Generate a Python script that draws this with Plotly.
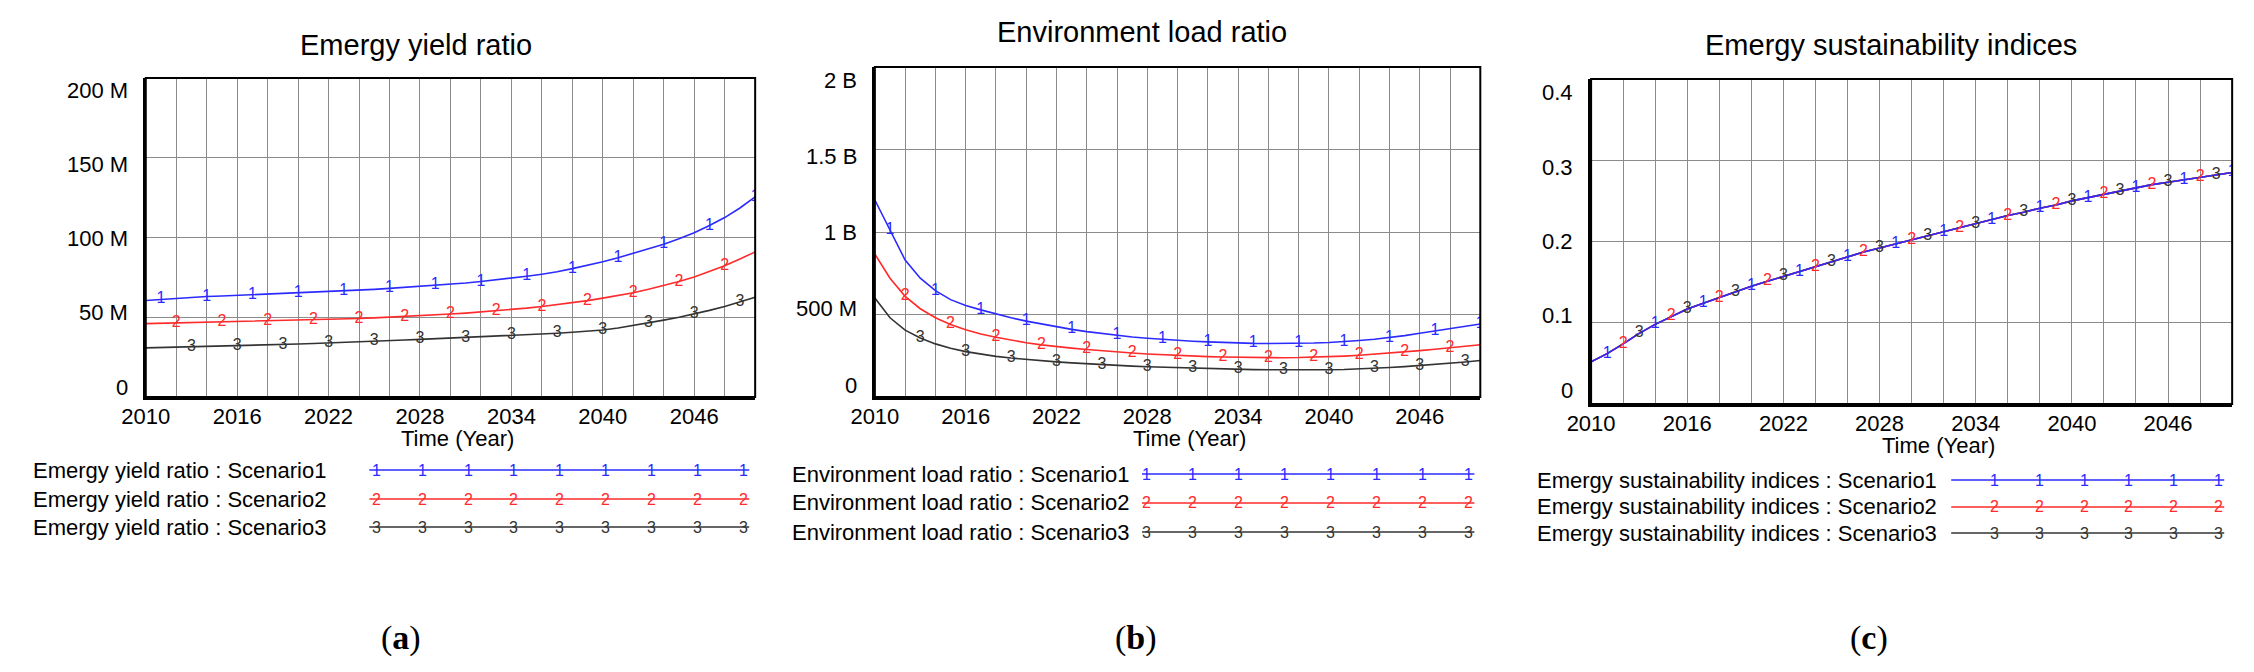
import plotly.graph_objects as go

# ---------------- data ----------------
years = list(range(2010, 2051))

# Emergy yield ratio (millions)
eyr_s1 = [60.5, 61.2, 61.8, 62.4, 63.0, 63.3, 63.7, 64.0, 64.4, 64.8, 65.2, 65.6, 66.0, 66.5, 67.0,
          67.5, 68.1, 68.7, 69.3, 70.0, 70.7, 71.5, 72.4, 73.4, 74.5, 75.7, 77.0, 78.5, 80.5, 82.6,
          84.8, 87.3, 90.0, 92.8, 95.8, 99.2, 103.0, 107.5, 112.5, 118.5, 125.5]
eyr_s2 = [46.0, 46.2, 46.4, 46.6, 46.8, 47.0, 47.2, 47.4, 47.6, 47.8, 48.0, 48.3, 48.6, 48.9, 49.2,
          49.6, 50.0, 50.4, 50.9, 51.4, 52.0, 52.6, 53.3, 54.0, 54.8, 55.7, 56.7, 57.8, 59.0, 60.4,
          62.0, 63.6, 65.4, 67.5, 69.8, 72.4, 75.3, 78.6, 82.3, 86.5, 91.0]
eyr_s3 = [30.8, 31.0, 31.2, 31.4, 31.6, 31.8, 32.0, 32.3, 32.6, 32.9, 33.2, 33.5, 33.8, 34.1, 34.5,
          34.9, 35.3, 35.7, 36.1, 36.5, 36.9, 37.3, 37.7, 38.2, 38.7, 39.2, 39.6, 40.0, 40.6, 41.3,
          42.0, 43.3, 44.8, 46.5, 48.2, 50.0, 52.0, 54.3, 56.8, 59.5, 62.5]

# Environment load ratio (millions)
elr_s1 = [1194, 1010, 830, 720, 645, 590, 555, 528, 503, 480, 460, 442, 425, 410, 396,
          384, 374, 364, 356, 349, 343, 338, 334, 330, 327, 325, 324, 324, 325, 327,
          330, 335, 342, 350, 360, 372, 386, 400, 414, 428, 442]
elr_s2 = [866, 720, 610, 535, 480, 440, 408, 382, 362, 344, 329, 316, 305, 296, 288,
          280, 273, 267, 261, 256, 252, 248, 245, 242, 240, 239, 238, 238, 239, 241,
          244, 248, 253, 259, 266, 273, 281, 289, 298, 307, 317]
elr_s3 = [600, 480, 405, 358, 322, 295, 275, 259, 246, 236, 227, 220, 213, 207, 201,
          196, 191, 187, 183, 180, 177, 174, 171, 169, 167, 166, 165, 164, 164, 164,
          165, 167, 170, 174, 179, 184, 190, 197, 204, 212, 221]

# Emergy sustainability indices
esi_s1 = [0.052, 0.062, 0.074, 0.087, 0.098, 0.108, 0.117, 0.124, 0.131, 0.138, 0.145, 0.151, 0.157,
          0.163, 0.169, 0.175, 0.181, 0.187, 0.192, 0.197, 0.202, 0.207, 0.212, 0.217, 0.222, 0.227,
          0.232, 0.236, 0.241, 0.245, 0.250, 0.254, 0.258, 0.262, 0.266, 0.270, 0.273, 0.276, 0.279,
          0.282, 0.285]
esi_s2 = [0.052, 0.062, 0.074, 0.087, 0.098, 0.108, 0.117, 0.124, 0.131, 0.138, 0.145, 0.151, 0.157,
          0.163, 0.169, 0.175, 0.181, 0.187, 0.192, 0.197, 0.202, 0.207, 0.212, 0.217, 0.222, 0.227,
          0.232, 0.236, 0.241, 0.245, 0.250, 0.254, 0.258, 0.262, 0.266, 0.270, 0.273, 0.276, 0.279,
          0.282, 0.285]
esi_s3 = [0.052, 0.062, 0.074, 0.087, 0.098, 0.108, 0.117, 0.124, 0.131, 0.138, 0.145, 0.151, 0.157,
          0.163, 0.169, 0.175, 0.181, 0.187, 0.192, 0.197, 0.202, 0.207, 0.212, 0.217, 0.222, 0.227,
          0.232, 0.236, 0.241, 0.245, 0.250, 0.254, 0.258, 0.262, 0.266, 0.270, 0.273, 0.276, 0.279,
          0.282, 0.285]

x_tick_vals = list(range(2010, 2051, 2))
x_tick_labels = ["2010", "2016", "2022", "2028", "2034", "2040", "2046"]

eyr_ticks = [0, 50, 100, 150, 200]
eyr_tick_labels = ["0", "50 M", "100 M", "150 M", "200 M"]
elr_ticks = [0, 500, 1000, 1500, 2000]
elr_tick_labels = ["0", "500 M", "1 B", "1.5 B", "2 B"]
esi_ticks = [0, 0.1, 0.2, 0.3, 0.4]
esi_tick_labels = ["0", "0.1", "0.2", "0.3", "0.4"]

titles = ["Emergy yield ratio", "Environment load ratio", "Emergy sustainability indices"]
scenarios = ["Scenario1", "Scenario2", "Scenario3"]
marks = ["1", "2", "3"]
sub_labels = ["a", "b", "c"]

# ---------------- style / layout ----------------
PAGE_W, PAGE_H = 2254, 672
BODY = 8                      # default page body margin of the html output
W, H = PAGE_W - 2 * BODY, PAGE_H - 2 * BODY
COLORS = ["#2b2bff", "#ff2a2a", "#333333"]
FONT = "Liberation Sans"
GRID = "#8c8c8c"


def fx(p):
    return (p - BODY) / W


def fy(p):
    return 1 - (p - BODY) / H


panels = [
    dict(box=(123, 739, 78, 397), rng=[0, 200], ticks=eyr_ticks, tlabels=eyr_tick_labels,
         series=[eyr_s1, eyr_s2, eyr_s3], lab=(0.031, 0.962), title_xy=(396, 45),
         leg_text_x=7, leg_line=(349, 733), leg_rows=(470, 499, 527), leg_first=356, leg_n=9,
         sub_x=381, xt=(438, 438)),
    dict(box=(860, 1472, 67, 397), rng=[0, 2000], ticks=elr_ticks, tlabels=elr_tick_labels,
         series=[elr_s1, elr_s2, elr_s3], lab=(0.036, 0.960), title_xy=(1130, 32),
         leg_text_x=774, leg_line=(1130, 1466), leg_rows=(474, 503, 532), leg_first=1135, leg_n=8,
         sub_x=1124, xt=(1178, 438)),
    dict(box=(1584, 2232, 79, 404), rng=[0, 0.4], ticks=esi_ticks, tlabels=esi_tick_labels,
         series=[esi_s1, esi_s2, esi_s3], lab=(0.043, 0.957), title_xy=(1887, 45),
         leg_text_x=1527, leg_line=(1948, 2224), leg_rows=(480, 507, 533), leg_first=1992, leg_n=6,
         sub_x=1865, xt=(1935, 445)),
]

fig = go.Figure()
annotations = []
shapes = []
layout_axes = {}

for pi, p in enumerate(panels):
    n = "" if pi == 0 else str(pi + 1)
    xa, ya = "x" + n, "y" + n
    x0, x1, y0, y1 = p["box"]
    common = dict(showline=True, linecolor="black", linewidth=3, mirror=False,
                  showgrid=True, gridcolor=GRID, gridwidth=1.2, zeroline=False, ticks="")
    layout_axes["xaxis" + n] = dict(
        domain=[fx(x0), fx(x1)], anchor=ya, range=[2010, 2050],
        tickvals=x_tick_vals,
        ticktext=[x_tick_labels[(v - 2010) // 6] if (v - 2010) % 6 == 0 else "" for v in x_tick_vals],
        tickfont=dict(family=FONT, size=22, color="black"), ticklabelstandoff=-2, **common)
    layout_axes["yaxis" + n] = dict(
        domain=[fy(y1), fy(y0)], anchor=xa, range=p["rng"], tickvals=p["ticks"],
        showticklabels=False, **common)

    # box top/right
    shapes.append(dict(type="rect", xref=xa + " domain", yref=ya + " domain", x0=0, x1=1, y0=0, y1=1,
                       line=dict(color="black", width=2), layer="above"))

    # series lines (draw 3 first so 1 on top)
    for si in [2, 1, 0]:
        fig.add_trace(go.Scatter(x=years, y=p["series"][si], mode="lines", xaxis=xa, yaxis=ya,
                                 line=dict(color=COLORS[si], width=1.6), showlegend=False,
                                 hoverinfo="skip"))
    for si in [2, 1, 0]:
        idx = [k for k, yv in enumerate(years) if yv >= 2011 and (yv - (2011 + si)) % 3 == 0]
        fig.add_trace(go.Scatter(x=[years[k] for k in idx], y=[p["series"][si][k] for k in idx],
                                 mode="text", text=[marks[si]] * len(idx), xaxis=xa, yaxis=ya,
                                 textfont=dict(family=FONT, size=16, color=COLORS[si]),
                                 textposition="middle center", showlegend=False, hoverinfo="skip"))

    # y tick labels (Vensim style, slightly compressed)
    lo, hi = p["lab"]
    for i, t in enumerate(p["tlabels"]):
        annotations.append(dict(xref=xa + " domain", yref=ya + " domain", x=0, y=lo + (hi - lo) * i / 4,
                                text=t, showarrow=False, xanchor="right", yanchor="middle", xshift=-16,
                                font=dict(family=FONT, size=22, color="black")))

    # title
    tx, ty = p["title_xy"]
    annotations.append(dict(xref="paper", yref="paper", x=fx(tx), y=fy(ty), text=titles[pi],
                            showarrow=False, xanchor="center", yanchor="middle",
                            font=dict(family=FONT, size=29, color="black")))
    # x axis title
    annotations.append(dict(xref="paper", yref="paper", x=fx(p["xt"][0]), y=fy(p["xt"][1]),
                            text="Time (Year)", showarrow=False, xanchor="center", yanchor="middle",
                            font=dict(family=FONT, size=22, color="black")))

    # legend rows
    lx0, lx1 = p["leg_line"]
    for si in range(3):
        ry = p["leg_rows"][si]
        annotations.append(dict(xref="paper", yref="paper", x=fx(p["leg_text_x"]), y=fy(ry),
                                text=f"{titles[pi]} : {scenarios[si]}", showarrow=False,
                                xanchor="left", yanchor="middle",
                                font=dict(family=FONT, size=22, color="black")))
        shapes.append(dict(type="line", xref="paper", yref="paper", x0=fx(lx0), x1=fx(lx1),
                           y0=fy(ry), y1=fy(ry), line=dict(color=COLORS[si], width=1.6)))
        step = (lx1 - 6 - p["leg_first"]) / (p["leg_n"] - 1)
        for k in range(p["leg_n"]):
            annotations.append(dict(xref="paper", yref="paper", x=fx(p["leg_first"] + k * step), y=fy(ry),
                                    text=marks[si], showarrow=False, xanchor="center", yanchor="middle",
                                    font=dict(family=FONT, size=16, color=COLORS[si])))

    # sub label
    annotations.append(dict(xref="paper", yref="paper", x=fx(p["sub_x"]), y=fy(638),
                            text=f"(<b>{sub_labels[pi]}</b>)", showarrow=False,
                            xanchor="center", yanchor="middle",
                            font=dict(family="Liberation Serif", size=34, color="black")))

fig.update_layout(width=W, height=H, margin=dict(l=0, r=0, t=0, b=0),
                  paper_bgcolor="white", plot_bgcolor="white",
                  annotations=annotations, shapes=shapes, **layout_axes)

fig.write_html("out.html")
